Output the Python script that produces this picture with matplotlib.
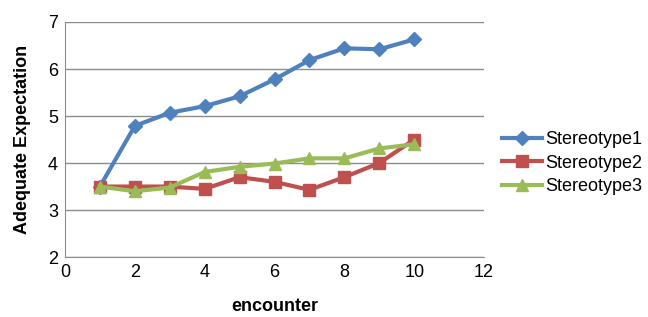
import matplotlib
matplotlib.use("Agg")
import matplotlib.pyplot as plt

encounter = [1, 2, 3, 4, 5, 6, 7, 8, 9, 10]
stereotype1 = [3.5, 4.79, 5.07, 5.21, 5.42, 5.78, 6.19, 6.44, 6.42, 6.63]
stereotype2 = [3.5, 3.5, 3.5, 3.45, 3.7, 3.6, 3.43, 3.7, 4.0, 4.5]
stereotype3 = [3.5, 3.4, 3.48, 3.81, 3.92, 3.99, 4.1, 4.1, 4.31, 4.4]

plt.rcParams["font.family"] = ["Liberation Sans", "DejaVu Sans"]

fig = plt.figure(figsize=(6.48, 3.17), dpi=100)
ax = fig.add_axes([0.1003, 0.189, 0.6467, 0.7416])

series = [
    ("Stereotype1", stereotype1, "#4F81BD", "D", 7),
    ("Stereotype2", stereotype2, "#C0504D", "s", 8),
    ("Stereotype3", stereotype3, "#9BBB59", "^", 8),
]
for name, vals, color, mk, ms in series:
    ax.plot(encounter, vals, color=color, lw=3, marker=mk, markersize=ms,
            label=name, solid_joinstyle="round")

ax.set_xlim(0, 12)
ax.set_ylim(2, 7)
ax.set_xticks(range(0, 13, 2))
ax.set_yticks(range(2, 8))
ax.yaxis.grid(True, color="#8c8c8c", lw=1)
ax.set_axisbelow(True)
for s in ("top", "right"):
    ax.spines[s].set_visible(False)
for s in ("left", "bottom"):
    ax.spines[s].set_color("#8c8c8c")
ax.tick_params(length=0, labelsize=13, pad=5)
ax.set_xlabel("encounter", fontsize=13, fontweight="bold", labelpad=12)
ax.set_ylabel("Adequate Expectation", fontsize=13, fontweight="bold", labelpad=12)

ax.legend(loc="center left", bbox_to_anchor=(1.0, 0.40), frameon=False,
          fontsize=13, handlelength=2.2, labelspacing=0.35, handletextpad=0.2,
          borderaxespad=0.6)

fig.savefig("out.png", dpi=100)
